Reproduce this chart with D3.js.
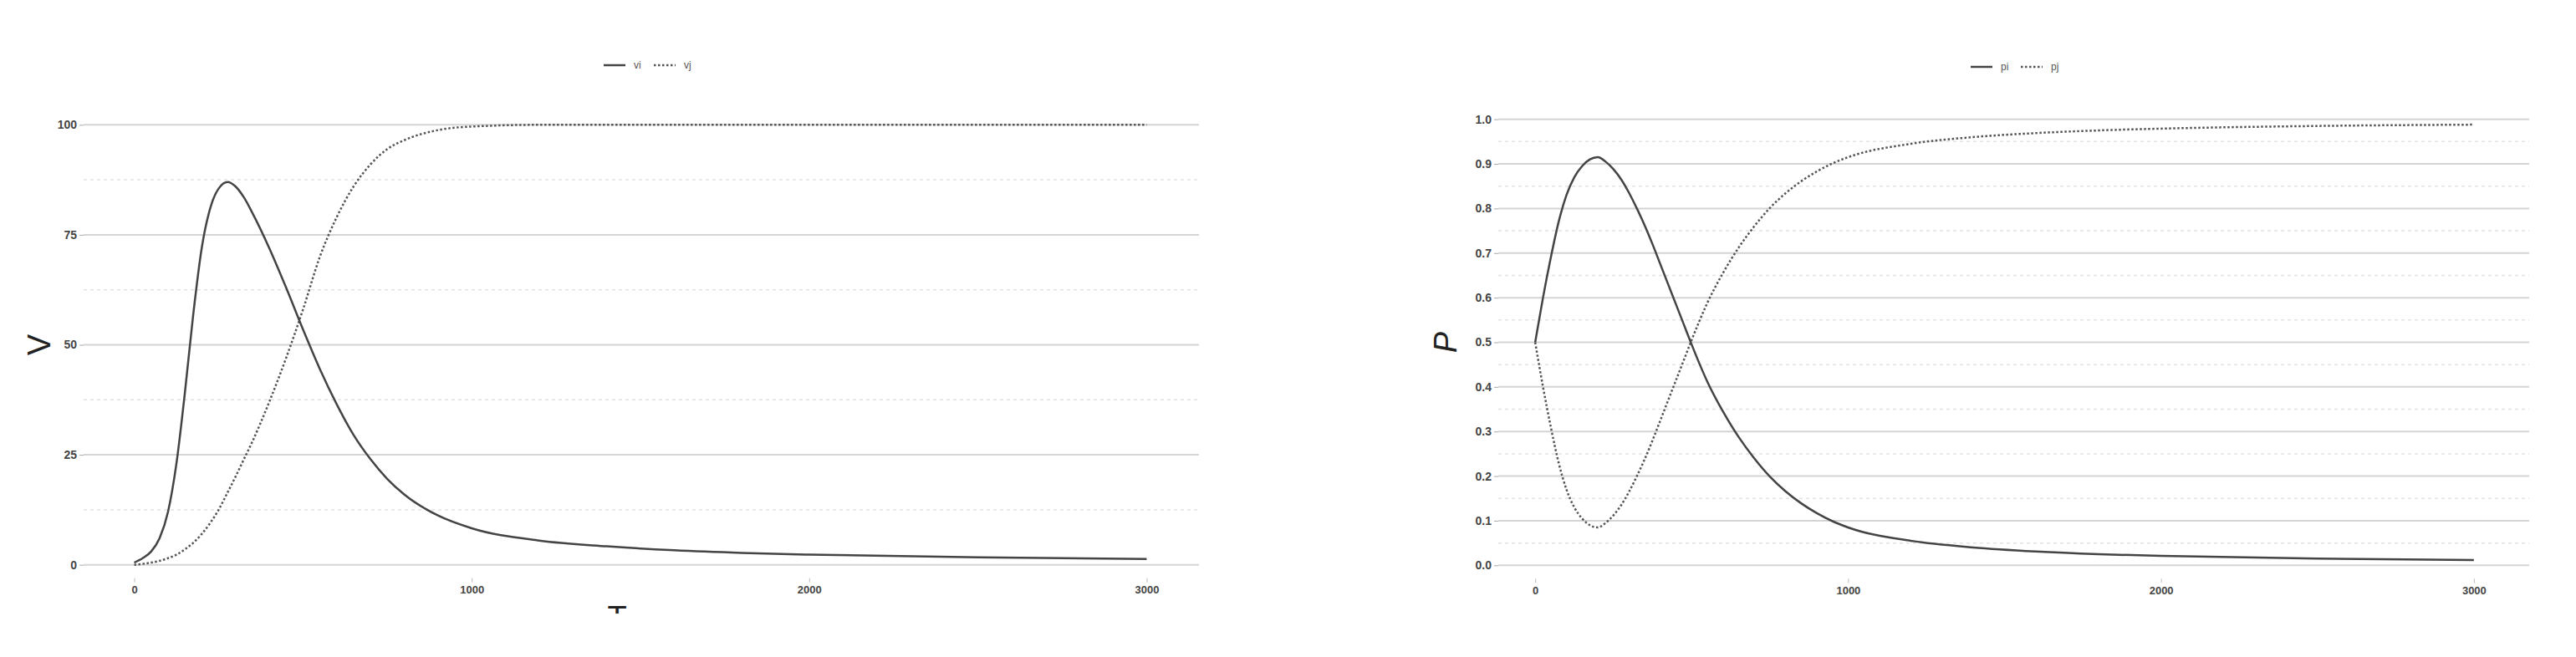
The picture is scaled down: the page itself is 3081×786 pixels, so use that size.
<!DOCTYPE html>
<html>
<head>
<meta charset="utf-8">
<script src="https://cdn.jsdelivr.net/npm/d3@7"></script>
<style>
  body { margin: 0; background: #fff; }
  svg { display: block; font-family: "Liberation Sans", Arial, sans-serif; }
</style>
</head>
<body>
<svg id="chart" width="3081" height="786"></svg>
<script>
// left panel: V over time
const tLeft = [0, 25, 50, 75, 100, 125, 150, 175, 200, 225, 250, 277, 300, 325, 350, 400, 450, 500, 550, 600, 650, 700, 750, 800, 900, 1000, 1200, 1400, 1600, 1800, 2000, 2500, 3000];
const vi = [0.5, 1.5, 3, 6, 12, 23, 39, 57, 72, 81, 85.5, 87, 86, 83.5, 80, 72, 63, 53.5, 44.5, 36.5, 29.5, 24, 19.5, 16, 11.2, 8.3, 5.5, 4.2, 3.3, 2.7, 2.3, 1.7, 1.3];
const vj = [0, 0.2, 0.5, 0.9, 1.5, 2.3, 3.5, 5, 7, 9.5, 12.5, 16.5, 20, 24, 28, 37, 47, 58, 70, 79, 86, 91, 94.5, 96.5, 98.8, 99.6, 100, 100, 100, 100, 100, 100, 100];

// right panel: P over time
const tRight = [0, 25, 50, 75, 100, 125, 150, 175, 200, 225, 250, 275, 300, 325, 350, 375, 400, 425, 450, 475, 500, 525, 550, 600, 650, 700, 750, 800, 850, 900, 950, 1000, 1200, 1400, 1600, 1800, 2000, 2500, 3000];
const pi = [0.5, 0.6, 0.69, 0.77, 0.83, 0.87, 0.895, 0.91, 0.915, 0.905, 0.888, 0.865, 0.835, 0.8, 0.762, 0.72, 0.675, 0.63, 0.585, 0.54, 0.495, 0.452, 0.412, 0.345, 0.288, 0.24, 0.199, 0.166, 0.139, 0.117, 0.099, 0.085, 0.055, 0.04, 0.031, 0.025, 0.021, 0.015, 0.012];
const pj = [0.5, 0.4, 0.31, 0.23, 0.17, 0.13, 0.105, 0.09, 0.085, 0.095, 0.112, 0.135, 0.165, 0.2, 0.238, 0.28, 0.325, 0.37, 0.415, 0.46, 0.505, 0.548, 0.588, 0.655, 0.712, 0.76, 0.801, 0.834, 0.861, 0.883, 0.901, 0.915, 0.945, 0.96, 0.969, 0.975, 0.979, 0.985, 0.988];

const xTicks = [0, 1000, 2000, 3000];
const vTicks = [0, 25, 50, 75, 100];
const vMinor = [12.5, 37.5, 62.5, 87.5];
const pTicks = [0, 0.1, 0.2, 0.3, 0.4, 0.5, 0.6, 0.7, 0.8, 0.9, 1.0];
const pMinor = [0.05, 0.15, 0.25, 0.35, 0.45, 0.55, 0.65, 0.75, 0.85, 0.95];

const svg = d3.select('#chart');

function drawPanel(opts) {
  const x = d3.scaleLinear().domain([-150, 3150]).range(opts.xRange);
  const y = d3.scaleLinear().domain(opts.yDomain).range([opts.bottom, opts.top]);
  const g = svg.append('g');

  // minor grid (dashed)
  g.selectAll('.minor').data(opts.minor).enter().append('line')
    .attr('x1', opts.gridLeft).attr('x2', opts.gridRight)
    .attr('y1', d => y(d)).attr('y2', d => y(d))
    .attr('stroke', '#e4e4e4')
    .attr('stroke-width', 1.5)
    .attr('stroke-dasharray', '4,4');

  // major grid
  g.selectAll('.major').data(opts.ticks).enter().append('line')
    .attr('x1', opts.gridLeft).attr('x2', opts.gridRight)
    .attr('y1', d => y(d)).attr('y2', d => y(d))
    .attr('stroke', '#d4d4d4')
    .attr('stroke-width', 2);

  // y axis
  const yAxis = g.append('g')
    .attr('transform', `translate(${opts.gridLeft},0)`)
    .call(d3.axisLeft(y).tickValues(opts.ticks).tickFormat(opts.fmt).tickSize(5).tickPadding(3));
  yAxis.select('.domain').remove();
  yAxis.selectAll('line').attr('stroke', '#aaa');
  yAxis.selectAll('text').attr('font-size', 14).attr('fill', '#444').attr('font-weight', 'bold');

  // x axis
  const xAxis = g.append('g')
    .attr('transform', `translate(0,${y(0) + 16})`)
    .call(d3.axisBottom(x).tickValues(xTicks).tickFormat(d3.format('d')).tickSize(5).tickPadding(4));
  xAxis.select('.domain').remove();
  xAxis.selectAll('line').attr('stroke', '#bbb');
  xAxis.selectAll('text').attr('font-size', 13).attr('fill', '#444').attr('font-weight', 'bold');

  // lines
  const line = d3.line()
    .x((d, i) => x(opts.t[i]))
    .y(d => y(d))
    .curve(d3.curveMonotoneX);

  g.append('path')
    .datum(opts.dashed)
    .attr('d', line)
    .attr('fill', 'none')
    .attr('stroke', '#555')
    .attr('stroke-width', 2.5)
    .attr('stroke-dasharray', '2.5,2.5');

  g.append('path')
    .datum(opts.solid)
    .attr('d', line)
    .attr('fill', 'none')
    .attr('stroke', '#444')
    .attr('stroke-width', 2.5);

  // y title
  g.append('text')
    .attr('transform', `translate(${opts.titleX},${y((opts.yDomain[0] + opts.yDomain[1]) / 2)}) rotate(-90)`)
    .attr('text-anchor', 'middle')
    .attr('font-size', 38)
    .attr('font-style', opts.italic ? 'italic' : 'normal')
    .attr('fill', '#222')
    .text(opts.yTitle);

  // legend
  const lg = g.append('g').attr('transform', `translate(${opts.legendX},${opts.legendY})`);
  lg.append('line').attr('x1', 0).attr('x2', 26).attr('y1', 0).attr('y2', 0)
    .attr('stroke', '#444').attr('stroke-width', 2.5);
  lg.append('text').attr('x', 36).attr('y', 4).attr('font-size', 12).attr('fill', '#555').text(opts.names[0]);
  lg.append('line').attr('x1', 60).attr('x2', 86).attr('y1', 0).attr('y2', 0)
    .attr('stroke', '#555').attr('stroke-width', 2.5).attr('stroke-dasharray', '2.5,2.5');
  lg.append('text').attr('x', 96).attr('y', 4).attr('font-size', 12).attr('fill', '#555').text(opts.names[1]);

  return { x, y };
}

drawPanel({
  xRange: [100, 1432], gridLeft: 100, gridRight: 1434, top: 123, bottom: 702,
  yDomain: [-5, 105], ticks: vTicks, minor: vMinor, fmt: d3.format('d'),
  t: tLeft, solid: vi, dashed: vj,
  yTitle: 'V', italic: false, titleX: 60,
  legendX: 722, legendY: 78, names: ['vi', 'vj']
});

drawPanel({
  xRange: [1780, 3015], gridLeft: 1792, gridRight: 3025, top: 116, bottom: 703,
  yDomain: [-0.05, 1.05], ticks: pTicks, minor: pMinor, fmt: d3.format('.1f'),
  t: tRight, solid: pi, dashed: pj,
  yTitle: 'P', italic: true, titleX: 1742,
  legendX: 2357, legendY: 80, names: ['pi', 'pj']
});

// x title of the left panel, cut off at the bottom in the source
svg.append('clipPath').attr('id', 'cut')
  .append('rect').attr('x', 0).attr('y', 0).attr('width', 1500).attr('height', 734);
svg.append('text')
  .attr('clip-path', 'url(#cut)')
  .attr('x', 738).attr('y', 752)
  .attr('text-anchor', 'middle')
  .attr('font-size', 38)
  .attr('fill', '#222')
  .text('T');
</script>
</body>
</html>
